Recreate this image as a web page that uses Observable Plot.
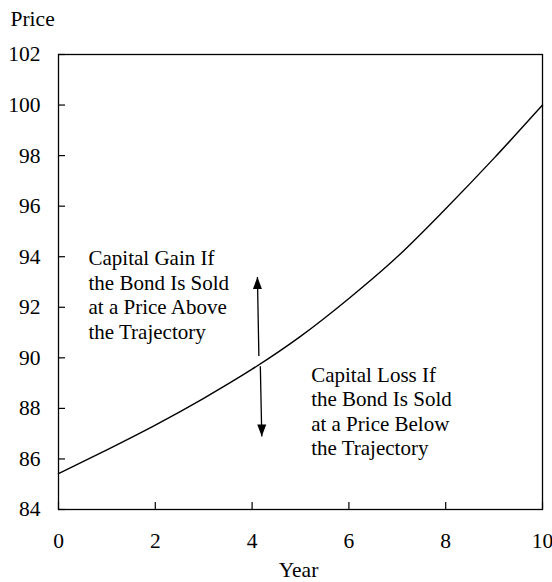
<!DOCTYPE html>
<html>
<head>
<meta charset="utf-8">
<script src="https://cdn.jsdelivr.net/npm/d3@7"></script>
<script src="https://cdn.jsdelivr.net/npm/@observablehq/plot@0.6"></script>
<style>
  body { margin: 0; background: #fff; }
</style>
</head>
<body>
<div id="chart"></div>
<script>
// Bond price trajectory
const years  = [0, 1, 2, 3, 4, 5, 6, 7, 8, 9, 10];
const prices = [85.42, 86.36, 87.34, 88.40, 89.55, 90.85, 92.35, 94.00, 95.90, 97.90, 100.0];

const xTicks = [0, 2, 4, 6, 8, 10];
const yTicks = [84, 86, 88, 90, 92, 94, 96, 98, 100, 102];

// Arrows (up = gain, down = loss)
const arrowX1 = [4.14, 4.17];
const arrowY1 = [90.07, 89.67];
const arrowX2 = [4.11, 4.20];
const arrowY2 = [93.2, 86.89];

// Annotations
const notes = [
  "Capital Gain If\nthe Bond Is Sold\nat a Price Above\nthe Trajectory",
  "Capital Loss If\nthe Bond Is Sold\nat a Price Below\nthe Trajectory"
];
const noteX = [0.62, 5.22];
const noteY = [92.52, 87.91];

const xLabel = "Year";
const yLabel = "Price";

const curve = years.map((t, i) => ({t, p: prices[i]}));
const arrows = arrowX1.map((_, i) => ({x1: arrowX1[i], y1: arrowY1[i], x2: arrowX2[i], y2: arrowY2[i]}));
const noteData = notes.map((s, i) => ({s, x: noteX[i], y: noteY[i]}));

// filled arrowhead, tip at the origin pointing up
const headSymbol = {
  draw(context) {
    context.moveTo(0, 0);
    context.lineTo(-4.5, 12);
    context.lineTo(4.5, 12);
    context.closePath();
  }
};

const chart = Plot.plot({
  width: 552,
  height: 582,
  marginLeft: 58,
  marginRight: 10,
  marginTop: 54,
  marginBottom: 73,
  style: {fontFamily: "'Liberation Serif', serif", fontSize: "21.5px", color: "#000", background: "#fff"},
  x: {domain: [0, 10]},
  y: {domain: [84, 102]},
  marks: [
    Plot.frame({stroke: "#000", strokeWidth: 1.3}),
    Plot.axisY(yTicks, {tickSize: -7, tickPadding: 25, label: null, strokeWidth: 1.2}),
    Plot.axisX(xTicks, {tickSize: -7, tickPadding: 30, label: null, strokeWidth: 1.2}),
    Plot.line(curve, {x: "t", y: "p", curve: "monotone-x", stroke: "#000", strokeWidth: 1.4}),
    Plot.link(arrows, {x1: "x1", y1: "y1", x2: "x2", y2: "y2", stroke: "#000", strokeWidth: 1.3}),
    Plot.dot(arrows.slice(0, 1), {x: "x2", y: "y2", symbol: headSymbol, fill: "#000", stroke: "none", r: 5}),
    Plot.dot(arrows.slice(1), {x: "x2", y: "y2", symbol: headSymbol, rotate: 180, fill: "#000", stroke: "none", r: 5}),
    Plot.text(noteData, {x: "x", y: "y", text: "s", textAnchor: "start", lineAnchor: "middle", lineHeight: 1.167, fontSize: 21, fill: "#000"}),
    Plot.text([yLabel], {frameAnchor: "top-left", dx: -48, dy: -35, textAnchor: "start", lineAnchor: "middle", fill: "#000"}),
    Plot.text([xLabel], {frameAnchor: "bottom", dy: 61, dx: -2, lineAnchor: "middle", fill: "#000"})
  ]
});
document.getElementById("chart").appendChild(chart);
</script>
</body>
</html>
